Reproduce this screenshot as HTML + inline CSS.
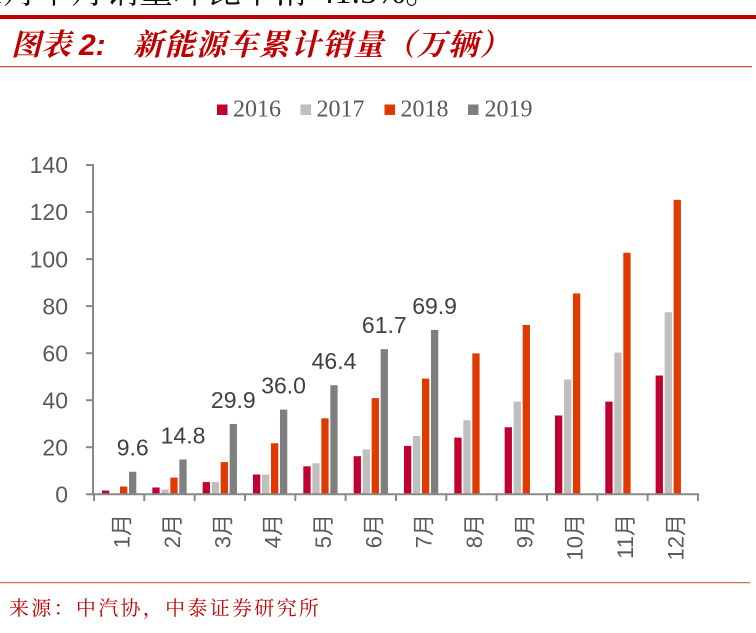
<!DOCTYPE html>
<html>
<head>
<meta charset="utf-8">
<style>
  html, body { margin:0; padding:0; background:#ffffff; }
  body { width:756px; height:633px; overflow:hidden; }
  svg { display:block; }
</style>
</head>
<body>
<svg width="756" height="633" viewBox="0 0 756 633" xmlns="http://www.w3.org/2000/svg">
  <!-- top cut-off text -->
  <text x="-14" y="3" font-family="'Liberation Serif','Noto Serif CJK SC',serif" font-size="34" fill="#111">1月单月销量环比下滑 41.5%。</text>

  <!-- header lines -->
  <rect x="0" y="15" width="756" height="4" fill="#c00000"/>
  <rect x="0" y="66" width="752" height="1.3" fill="#d24a4a"/>

  <!-- title -->
  <g fill="#c00000" font-style="italic" font-weight="bold">
    <text x="11" y="55" font-family="'Noto Serif CJK SC',serif" font-size="30">图表</text>
    <text x="79" y="55" font-family="'Liberation Sans',sans-serif" font-size="30">2:</text>
    <text x="133" y="55" font-family="'Noto Serif CJK SC',serif" font-size="30" letter-spacing="1.5">新能源车累计销量（万辆）</text>
  </g>

  <!-- legend -->
  <g font-family="'Liberation Serif',serif" font-size="24" fill="#595959">
    <rect x="217" y="104.5" width="10.5" height="10.5" fill="#c0002f"/>
    <text x="233" y="116.5">2016</text>
    <rect x="300.5" y="104.5" width="10.5" height="10.5" fill="#bfbfbf"/>
    <text x="316.5" y="116.5">2017</text>
    <rect x="384.5" y="104.5" width="10.5" height="10.5" fill="#e03a00"/>
    <text x="400.5" y="116.5">2018</text>
    <rect x="468" y="104.5" width="10.5" height="10.5" fill="#7f7f7f"/>
    <text x="484.5" y="116.5">2019</text>
  </g>

  <!-- y tick labels -->
  <g font-family="'Liberation Sans',sans-serif" font-size="23" fill="#595959" text-anchor="end">
    <text x="68" y="173.2">140</text>
    <text x="68" y="220.2">120</text>
    <text x="68" y="267.3">100</text>
    <text x="68" y="314.3">80</text>
    <text x="68" y="361.4">60</text>
    <text x="68" y="408.4">40</text>
    <text x="68" y="455.4">20</text>
    <text x="68" y="502.5">0</text>
  </g>

  <!-- bars -->
  <g id="bars"></g>

  <!-- axes -->
  <g stroke="#898989" stroke-width="2" fill="none">
    <line x1="93" y1="164" x2="93" y2="495"/>
    <line x1="86" y1="165" x2="93" y2="165"/>
    <line x1="86" y1="212" x2="93" y2="212"/>
    <line x1="86" y1="259.1" x2="93" y2="259.1"/>
    <line x1="86" y1="306.1" x2="93" y2="306.1"/>
    <line x1="86" y1="353.2" x2="93" y2="353.2"/>
    <line x1="86" y1="400.2" x2="93" y2="400.2"/>
    <line x1="86" y1="447.2" x2="93" y2="447.2"/>
    <line x1="86" y1="494.3" x2="93" y2="494.3"/>
    <line x1="92" y1="494.3" x2="699" y2="494.3"/>
  </g>
  <g id="xticks" stroke="#898989" stroke-width="2"></g>

  <!-- data labels -->
  <g id="dlabels" font-family="'Liberation Sans',sans-serif" font-size="23" fill="#404040" text-anchor="middle"></g>

  <!-- x labels -->
  <g id="xlabels" font-family="'Liberation Sans','Noto Sans CJK SC',sans-serif" font-size="22" fill="#595959" text-anchor="end"></g>

  <!-- footer -->
  <rect x="0" y="582" width="750" height="1.3" fill="#e06a6a"/>
  <text x="9" y="615" font-family="'Noto Serif CJK SC',serif" font-size="20" letter-spacing="2.3" fill="#c00000">来源：中汽协，中泰证券研究所</text>
</svg>

<script>
(function(){
  var NS = "http://www.w3.org/2000/svg";
  var d16=[1.6,2.9,5.2,8.4,11.9,16.2,20.6,24.1,28.5,33.5,39.4,50.5];
  var d17=[0,2.0,5.2,8.4,13.2,19.1,24.8,31.5,39.4,48.8,60.3,77.4];
  var d18=[3.3,7.1,13.7,21.7,32.3,40.9,49.2,59.9,72.0,85.4,102.7,125.2];
  var d19=[9.6,14.8,29.9,36.0,46.4,61.7,69.9];
  var lab19=["9.6","14.8","29.9","36.0","46.4","61.7","69.9"];
  var cols=["#c0002f","#bfbfbf","#e03a00","#7f7f7f"];
  var y0=494.3, sc=2.352, x0=94, cw=50.33, bw=7.3;
  var bars=document.getElementById("bars");
  var xt=document.getElementById("xticks");
  var dl=document.getElementById("dlabels");
  var xl=document.getElementById("xlabels");
  function rect(x,y,w,h,f){var r=document.createElementNS(NS,"rect");r.setAttribute("x",x);r.setAttribute("y",y);r.setAttribute("width",w);r.setAttribute("height",h);r.setAttribute("fill",f);bars.appendChild(r);}
  var series=[d16,d17,d18,d19];
  for(var k=0;k<12;k++){
    var cs=x0+cw*k;
    for(var s=0;s<4;s++){
      var v=series[s][k];
      if(v===undefined||v<=0) continue;
      var h=v*sc;
      rect(cs+8+9*s, y0-h, bw, h, cols[s]);
      if(s===3){
        var t=document.createElementNS(NS,"text");
        t.setAttribute("x",(cs+8+27+bw/2).toFixed(1));
        t.setAttribute("y",(y0-h-16).toFixed(1));
        t.textContent=lab19[k];
        dl.appendChild(t);
      }
    }
    var cx=cs+cw/2+3;
    var tx=document.createElementNS(NS,"text");
    tx.setAttribute("transform","translate("+cx.toFixed(1)+",514) rotate(-90)");
    tx.setAttribute("dominant-baseline","central");
    tx.textContent=(k+1)+"月";
    xl.appendChild(tx);
  }
  for(var i=0;i<=12;i++){
    var x=x0+cw*i;
    var l=document.createElementNS(NS,"line");
    l.setAttribute("x1",x.toFixed(1));l.setAttribute("x2",x.toFixed(1));
    l.setAttribute("y1","494");l.setAttribute("y2","501");
    xt.appendChild(l);
  }
})();
</script>
</body>
</html>
